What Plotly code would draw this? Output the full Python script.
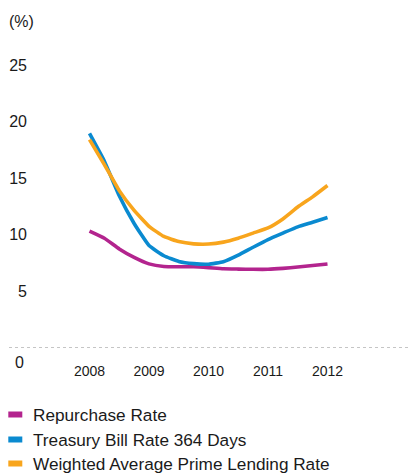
import plotly.graph_objects as go

# Quarterly observations 2008–2012
periods = [2008.0, 2008.25, 2008.5, 2008.75, 2009.0, 2009.25, 2009.5, 2009.75,
           2010.0, 2010.25, 2010.5, 2010.75, 2011.0, 2011.25, 2011.5, 2011.75, 2012.0]

repurchase_rate = [10.33, 9.7, 8.75, 8.0, 7.43, 7.2, 7.18, 7.18,
                   7.1, 7.0, 6.97, 6.95, 6.95, 7.03, 7.15, 7.28, 7.42]
treasury_bill_364 = [18.95, 16.5, 13.45, 11.0, 9.05, 8.15, 7.65, 7.45,
                     7.4, 7.62, 8.2, 8.9, 9.58, 10.15, 10.7, 11.1, 11.52]
prime_lending = [18.4, 16.2, 13.9, 12.15, 10.75, 9.85, 9.4, 9.2,
                 9.18, 9.35, 9.7, 10.15, 10.6, 11.4, 12.45, 13.35, 14.35]

series_names = ["Repurchase Rate", "Treasury Bill Rate 364 Days",
                "Weighted Average Prime Lending Rate"]
series_values = [repurchase_rate, treasury_bill_364, prime_lending]
series_colors = ["#b3248e", "#0a8ad0", "#f8a51d"]

x_tick_vals = [2008, 2009, 2010, 2011, 2012]
x_tick_text = ["2008", "2009", "2010", "2011", "2012"]
y_tick_vals = [5, 10, 15, 20, 25]
y_tick_text = ["5", "10", "15", "20", "25"]

FONT = "Liberation Sans, Arial, Helvetica, sans-serif"
TEXT = "#1a1a1a"

W, H = 409, 474
ML, MR, MT, MB = 30, 0, 31, 126
PW, PH = W - ML - MR, H - MT - MB

def px_x(px):
    return (px - ML) / PW

def px_y(py):
    return (H - MB - py) / PH

fig = go.Figure()
for name, vals, col in zip(series_names, series_values, series_colors):
    fig.add_trace(go.Scatter(x=periods, y=vals, name=name, mode="lines",
                             line=dict(color=col, width=3.6, shape="spline", smoothing=0.4),
                             showlegend=False))

shapes = []
annotations = []

# zero baseline (dotted)
shapes.append(dict(type="line", xref="paper", yref="y", x0=px_x(9), x1=1, y0=0, y1=0,
                   line=dict(color="#8a8a8a", width=1, dash="dot")))
annotations.append(dict(text="0", xref="paper", yref="y", x=px_x(26), y=0, xanchor="right",
                        yanchor="middle", yshift=-14, showarrow=False,
                        font=dict(family=FONT, size=16, color=TEXT)))
annotations.append(dict(text="(%)", xref="paper", yref="paper", x=px_x(7), y=px_y(21.5),
                        xanchor="left", yanchor="middle", showarrow=False,
                        font=dict(family=FONT, size=16, color=TEXT)))

# manual legend
legend_rows = [414.5, 439.5, 463.5]
for name, col, yc in zip(series_names, series_colors, legend_rows):
    shapes.append(dict(type="rect", xref="paper", yref="paper",
                       x0=px_x(8.3), x1=px_x(22.3), y0=px_y(yc + 3), y1=px_y(yc - 3),
                       fillcolor=col, line=dict(width=0)))
    annotations.append(dict(text=name, xref="paper", yref="paper", x=px_x(32), y=px_y(yc),
                            xanchor="left", yanchor="middle", showarrow=False, borderpad=0,
                            font=dict(family=FONT, size=17.2, color=TEXT)))

fig.update_layout(
    width=W, height=H,
    margin=dict(l=ML, r=MR, t=MT, b=MB, pad=0),
    paper_bgcolor="white", plot_bgcolor="white",
    font=dict(family=FONT, color=TEXT),
    xaxis=dict(range=[2007, 2012 + (409 - 327.5) / 59.5], tickvals=x_tick_vals,
               ticktext=x_tick_text, showgrid=False, zeroline=False, showline=False,
               ticks="", tickfont=dict(size=14, color=TEXT), ticklabelstandoff=13),
    yaxis=dict(range=[0, 28], tickvals=y_tick_vals, ticktext=y_tick_text,
               showgrid=False, zeroline=False, showline=False, ticks="",
               tickfont=dict(size=16, color=TEXT), ticklabelstandoff=2),
    shapes=shapes, annotations=annotations,
)

fig.write_html("out.html")
